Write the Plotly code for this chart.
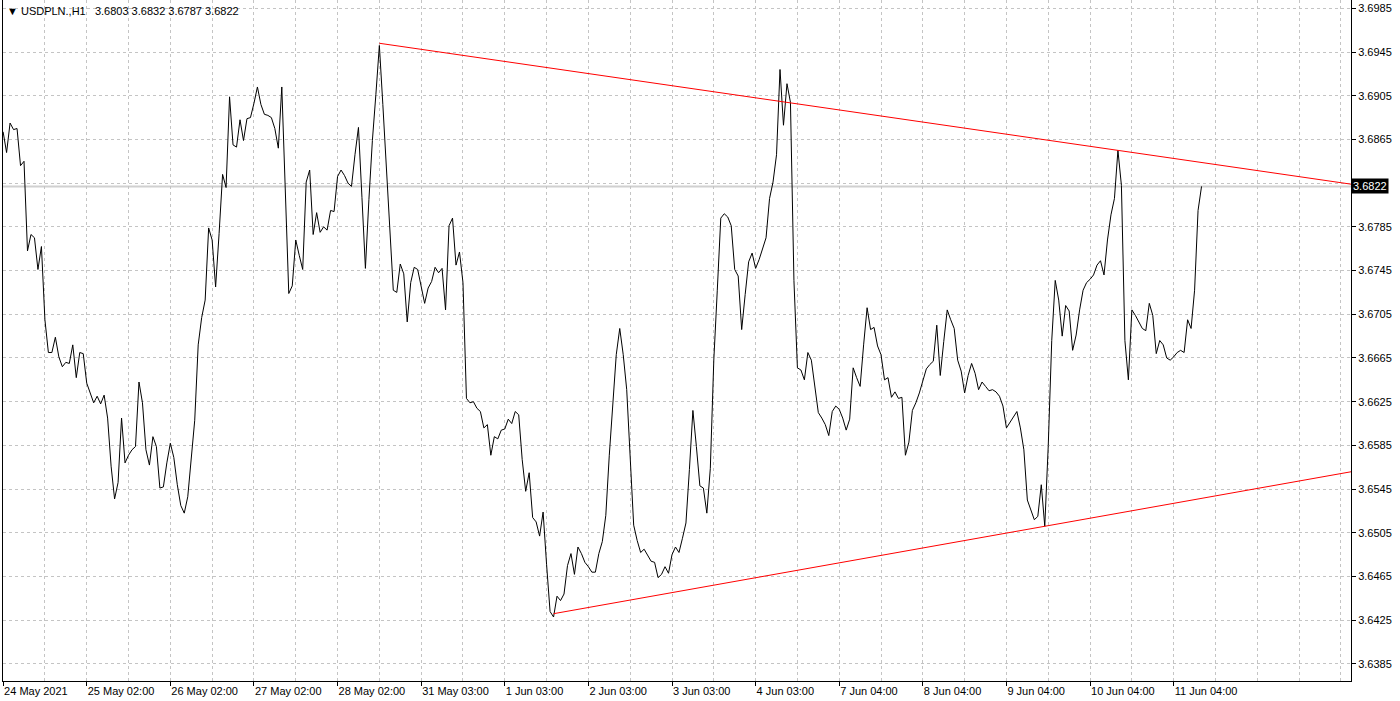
import plotly.graph_objects as go

# ---------------- data (USDPLN H1 closes, one per bar) ----------------
close = [
    3.6872, 3.6853, 3.6880, 3.6874, 3.6875, 3.6841, 3.6845, 3.6763, 3.6778, 3.6775, 3.6746, 3.6767,
    3.6700, 3.6670, 3.6670, 3.6684, 3.6666, 3.6657, 3.6661, 3.6660, 3.6677, 3.6647, 3.6670, 3.6669,
    3.6642, 3.6633, 3.6624, 3.6630, 3.6623, 3.6631, 3.6610, 3.6566, 3.6536, 3.6551, 3.6610, 3.6569,
    3.6576, 3.6581, 3.6584, 3.6643, 3.6624, 3.6581, 3.6567, 3.6593, 3.6584, 3.6546, 3.6547, 3.6569,
    3.6587, 3.6574, 3.6549, 3.6530, 3.6523, 3.6538, 3.6570, 3.6608, 3.6677, 3.6702, 3.6718, 3.6784,
    3.6773, 3.6730, 3.6779, 3.6833, 3.6821, 3.6904, 3.6860, 3.6858, 3.6883, 3.6864, 3.6884, 3.6885,
    3.6898, 3.6913, 3.6897, 3.6888, 3.6887, 3.6885, 3.6875, 3.6857, 3.6913, 3.6819, 3.6724, 3.6731,
    3.6773, 3.6759, 3.6746, 3.6826, 3.6837, 3.6778, 3.6798, 3.6780, 3.6785, 3.6782, 3.6800, 3.6799,
    3.6831, 3.6837, 3.6832, 3.6825, 3.6822, 3.6851, 3.6876, 3.6812, 3.6747, 3.6810, 3.6864, 3.6906,
    3.6951, 3.6897, 3.6837, 3.6782, 3.6727, 3.6725, 3.6751, 3.6742, 3.6698, 3.6734, 3.6748, 3.6746,
    3.6732, 3.6715, 3.6729, 3.6735, 3.6748, 3.6743, 3.6747, 3.6709, 3.6786, 3.6793, 3.6750, 3.6762,
    3.6734, 3.6628, 3.6624, 3.6625, 3.6619, 3.6616, 3.6601, 3.6604, 3.6576, 3.6593, 3.6591, 3.6599,
    3.6600, 3.6609, 3.6605, 3.6616, 3.6613, 3.6572, 3.6543, 3.6560, 3.6519, 3.6515, 3.6502, 3.6524,
    3.6476, 3.6433, 3.6428, 3.6447, 3.6443, 3.6449, 3.6475, 3.6486, 3.6467, 3.6492, 3.6486, 3.6478,
    3.6474, 3.6469, 3.6469, 3.6486, 3.6497, 3.6521, 3.6576, 3.6627, 3.6668, 3.6692, 3.6668, 3.6636,
    3.6576, 3.6512, 3.6498, 3.6487, 3.6490, 3.6484, 3.6479, 3.6478, 3.6464, 3.6467, 3.6474, 3.6468,
    3.6485, 3.6492, 3.6487, 3.6500, 3.6514, 3.6563, 3.6617, 3.6584, 3.6548, 3.6546, 3.6523, 3.6564,
    3.6663, 3.6727, 3.6793, 3.6797, 3.6794, 3.6786, 3.6746, 3.6740, 3.6691, 3.6723, 3.6753, 3.6761,
    3.6747, 3.6755, 3.6765, 3.6775, 3.6811, 3.6826, 3.6851, 3.6929, 3.6878, 3.6916, 3.6899, 3.6736,
    3.6656, 3.6654, 3.6645, 3.6670, 3.6663, 3.6638, 3.6615, 3.6610, 3.6604, 3.6594, 3.6616, 3.6621,
    3.6618, 3.6610, 3.6599, 3.6609, 3.6656, 3.6647, 3.6639, 3.6677, 3.6711, 3.6691, 3.6693, 3.6676,
    3.6668, 3.6645, 3.6647, 3.6629, 3.6634, 3.6628, 3.6629, 3.6576, 3.6588, 3.6617, 3.6624, 3.6633,
    3.6645, 3.6655, 3.6659, 3.6662, 3.6695, 3.6649, 3.6680, 3.6709, 3.6700, 3.6692, 3.6663, 3.6653,
    3.6633, 3.6649, 3.6660, 3.6651, 3.6636, 3.6643, 3.6639, 3.6635, 3.6636, 3.6634, 3.6630, 3.6621,
    3.6601, 3.6606, 3.6611, 3.6616, 3.6601, 3.6581, 3.6535, 3.6526, 3.6517, 3.6520, 3.6549, 3.6511,
    3.6585, 3.6681, 3.6736, 3.6718, 3.6685, 3.6713, 3.6708, 3.6672, 3.6686, 3.6709, 3.6727, 3.6734,
    3.6737, 3.6741, 3.6750, 3.6754, 3.6741, 3.6773, 3.6796, 3.6811, 3.6855, 3.6823, 3.6681, 3.6645,
    3.6709, 3.6704, 3.6698, 3.6692, 3.6690, 3.6715, 3.6704, 3.6669, 3.6681, 3.6677, 3.6665, 3.6663,
    3.6666, 3.6670, 3.6672, 3.6670, 3.6700, 3.6692, 3.6727, 3.6800, 3.6822,
]
bars = list(range(len(close)))

symbol = "USDPLN.,H1"
last_ohlc = [3.6803, 3.6832, 3.6787, 3.6822]

date_tick_bars = [0, 24, 48, 72, 96, 120, 144, 168, 192, 216, 240, 264, 288, 312, 336]
date_tick_labels = ["24 May 2021", "25 May 02:00", "26 May 02:00", "27 May 02:00",
                    "28 May 02:00", "31 May 03:00", "1 Jun 03:00", "2 Jun 03:00",
                    "3 Jun 03:00", "4 Jun 03:00", "7 Jun 04:00", "8 Jun 04:00",
                    "9 Jun 04:00", "10 Jun 04:00", "11 Jun 04:00"]

price_ticks = [3.6385, 3.6425, 3.6465, 3.6505, 3.6545, 3.6585, 3.6625, 3.6665,
               3.6705, 3.6745, 3.6785, 3.6825, 3.6865, 3.6905, 3.6945, 3.6985]

# trend lines: two anchor points each (bar index, price)
upper_bars = [108, 320]
upper_prices = [3.6953, 3.6855]
lower_bars = [158, 299]
lower_prices = [3.6431, 3.6511]

# ---------------- view ----------------
x_range = [-0.03, 386.9]
y_range = [3.63694, 3.69926]
FONT = "Liberation Sans, Arial, sans-serif"
GRID = "#c4c4c4"


def ray(bx, py, x_end):
    slope = (py[1] - py[0]) / (bx[1] - bx[0])
    return [bx[0], x_end], [py[0], py[1] + slope * (x_end - bx[1])]


fig = go.Figure()

ux, uy = ray(upper_bars, upper_prices, x_range[1])
lx, ly = ray(lower_bars, lower_prices, x_range[1])

fig.add_trace(go.Scatter(x=bars, y=close, mode="lines",
                         line=dict(color="black", width=1), hoverinfo="skip",
                         showlegend=False))
fig.add_trace(go.Scatter(x=ux, y=uy, mode="lines", line=dict(color="#ff0000", width=1),
                         hoverinfo="skip", showlegend=False))
fig.add_trace(go.Scatter(x=lx, y=ly, mode="lines", line=dict(color="#ff0000", width=1),
                         hoverinfo="skip", showlegend=False))

# bid line
fig.add_shape(type="line", xref="paper", x0=0, x1=1, yref="y", y0=close[-1], y1=close[-1],
              line=dict(color="#d0d0d0", width=2), layer="below")

# the 3.6825 label is hidden under the current-price box in the original
price_labels = ["" if abs(v - close[-1]) < 0.0008 else f"{v:.4f}" for v in price_ticks]

fig.update_layout(
    width=1400, height=701,
    margin=dict(l=3, r=49, t=0, b=20, pad=0, autoexpand=False),
    paper_bgcolor="white", plot_bgcolor="white",
    font=dict(family=FONT, size=11, color="black"),
    showlegend=False,
    xaxis=dict(
        range=x_range, tickmode="array", tickvals=date_tick_bars, ticktext=date_tick_labels,
        ticks="outside", ticklen=4, tickcolor="black", tickwidth=1,
        ticklabelposition="outside right", automargin=False,
        showline=True, linecolor="black", linewidth=1,
        showgrid=True, gridcolor=GRID, griddash="3px,3px", gridwidth=1,
        zeroline=False, tickfont=dict(family=FONT, size=11, color="black"),
        minor=dict(tickmode="linear", tick0=0, dtick=12, showgrid=True,
                   gridcolor=GRID, griddash="3px,3px", gridwidth=1, ticklen=0),
    ),
    yaxis=dict(
        range=y_range, side="right", tickmode="array", tickvals=price_ticks,
        ticktext=price_labels, automargin=False,
        ticks="outside", ticklen=4, tickcolor="black", tickwidth=1,
        showline=True, mirror=True, linecolor="black", linewidth=1,
        showgrid=True, gridcolor=GRID, griddash="3px,3px", gridwidth=1,
        zeroline=False, tickfont=dict(family=FONT, size=11, color="black"),
    ),
)

nb = "\u00a0"
title_text = ("\u25BC" + nb + symbol + nb + nb + nb + nb.join(f"{v:.4f}" for v in last_ohlc))
fig.add_annotation(xref="paper", yref="paper", x=0, y=1, xanchor="left", yanchor="top",
                   xshift=2, yshift=-3, text=title_text, showarrow=False,
                   font=dict(family=FONT, size=11, color="black"))

# current price box
fig.add_annotation(xref="paper", yref="y", x=1, y=close[-1], xanchor="left", yanchor="middle",
                   text=f"{close[-1]:.4f}", showarrow=False, bgcolor="black",
                   font=dict(family=FONT, size=11, color="white"), borderpad=1, xshift=0)

fig.write_html("out.html", config={"displayModeBar": False},
               post_script="document.body.style.margin='0';document.body.style.overflow='hidden';")
